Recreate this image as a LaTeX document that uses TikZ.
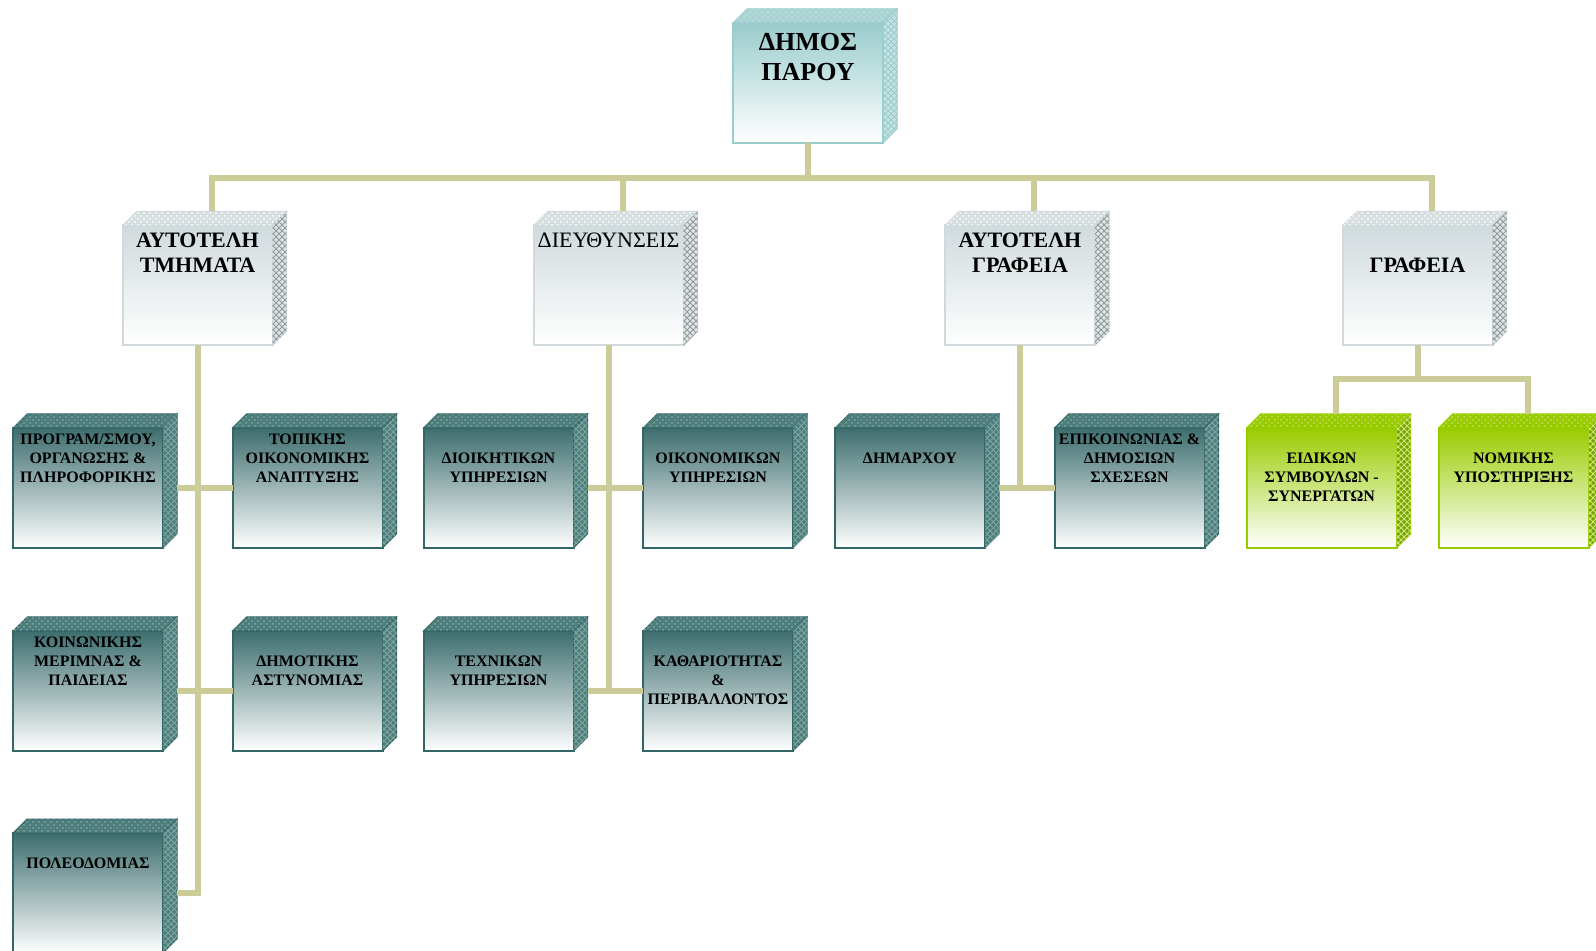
\documentclass[tikz,border=0pt]{standalone}
\usepackage{fontspec}
\setmainfont{Liberation Serif}
\usetikzlibrary{patterns}

\definecolor{conncol}{RGB}{204,204,153}
\definecolor{tealdark}{RGB}{51,102,102}
\definecolor{tealface}{RGB}{78,126,124}
\definecolor{tealdot}{RGB}{125,165,162}
\definecolor{teallight}{RGB}{153,204,204}
\definecolor{tealpale}{RGB}{176,214,213}
\definecolor{graylight}{RGB}{208,218,221}
\definecolor{grayface}{RGB}{214,222,224}
\definecolor{greenbox}{RGB}{153,204,0}

% text of a box, set from its top edge
\newcommand{\boxtext}[2]{\vbox to 60pt{\vskip#1\hbox to 75pt{\hss\begin{tabular}{@{}c@{}}#2\end{tabular}\hss}\vss}}
% top and side face of a box
\newcommand{\cubefaces}[3]{%
  \path[#2] (#1.north west) -- ++(14,14) -- ([shift={(14,14)}]#1.north east) -- (#1.north east) -- cycle;
  \path[#3] (#1.north east) -- ++(14,14) -- ([shift={(14,14)}]#1.south east) -- (#1.south east) -- cycle;
}

\begin{document}
\begin{tikzpicture}[x=0.5pt, y=0.5pt,
    conn/.style={draw=conncol, line width=3pt},
    frontbox/.style={rectangle, line width=1pt, inner sep=0pt, outer sep=0pt, bottom color=white},
    topbox/.style={frontbox, draw=teallight, top color=teallight, font=\fontsize{13}{15}\selectfont\bfseries},
    headbox/.style={frontbox, draw=graylight, top color=graylight, font=\fontsize{11}{12.5}\selectfont\bfseries},
    darkbox/.style={frontbox, draw=tealdark, top color=tealdark!95!white, font=\fontsize{8}{9.5}\selectfont\bfseries},
    greenbox/.style={frontbox, draw=greenbox, top color=greenbox, font=\fontsize{8}{9.5}\selectfont\bfseries},
    toptop/.style={fill=tealpale, draw=teallight, line width=0.5pt, postaction={pattern=crosshatch dots, pattern color=teallight}},
    topside/.style={fill=tealpale!70!white, draw=teallight, line width=0.5pt, postaction={pattern=crosshatch, pattern color=teallight}},
    headtop/.style={fill=grayface, draw=graylight, line width=0.5pt, postaction={pattern=crosshatch dots, pattern color=white}},
    headside/.style={fill=grayface!80!white, draw=graylight, line width=0.5pt, postaction={pattern=crosshatch, pattern color=graylight!70!black}},
    darktop/.style={fill=tealface, draw=tealdark, line width=0.5pt, postaction={pattern=crosshatch dots, pattern color=tealdot}},
    darkside/.style={fill=tealface, draw=tealdark, line width=0.5pt, postaction={pattern=crosshatch, pattern color=tealdot}},
    greentop/.style={fill=greenbox, draw=greenbox, line width=0.5pt, postaction={pattern=crosshatch dots, pattern color=greenbox!60!white}},
    greenside/.style={fill=greenbox!80!black, draw=greenbox, line width=0.5pt, postaction={pattern=crosshatch, pattern color=greenbox!50!white}}]
  \useasboundingbox (0,0) rectangle (1596,-951);
  \clip (0,0) rectangle (1596,-951);

  % top
  \node [topbox] (dimos) at (808,-83) {\boxtext{3.3pt}{ΔΗΜΟΣ\\ΠΑΡΟΥ}};

  % second level
  \node [headbox] (autotm) at (197.5,-285.5) {\boxtext{2.4pt}{ΑΥΤΟΤΕΛΗ\\ΤΜΗΜΑΤΑ}};
  \node [headbox] (dieuth) at (608.5,-285.5) {\boxtext{2.4pt}{\mdseries ΔΙΕΥΘΥΝΣΕΙΣ}};
  \node [headbox] (autogr) at (1020,-285.5) {\boxtext{2.4pt}{ΑΥΤΟΤΕΛΗ\\ΓΡΑΦΕΙΑ}};
  \node [headbox] (grafeia) at (1417.5,-285.5) {\boxtext{14.9pt}{ΓΡΑΦΕΙΑ}};

  % third level
  \node [darkbox] (program) at (88,-488) {\boxtext{1.5pt}{ΠΡΟΓΡΑΜ/ΣΜΟΥ,\\ΟΡΓΑΝΩΣΗΣ \&\\ΠΛΗΡΟΦΟΡΙΚΗΣ}};
  \node [darkbox] (topikis) at (307.5,-488) {\boxtext{1.5pt}{ΤΟΠΙΚΗΣ\\ΟΙΚΟΝΟΜΙΚΗΣ\\ΑΝΑΠΤΥΞΗΣ}};
  \node [darkbox] (koinon) at (88,-691) {\boxtext{1.5pt}{ΚΟΙΝΩΝΙΚΗΣ\\ΜΕΡΙΜΝΑΣ \&\\ΠΑΙΔΕΙΑΣ}};
  \node [darkbox] (dimastyn) at (307.5,-691) {\boxtext{11pt}{ΔΗΜΟΤΙΚΗΣ\\ΑΣΤΥΝΟΜΙΑΣ}};
  \node [darkbox] (poleod) at (88,-893) {\boxtext{11pt}{ΠΟΛΕΟΔΟΜΙΑΣ}};
  \node [darkbox] (dioik) at (498.5,-488) {\boxtext{11pt}{ΔΙΟΙΚΗΤΙΚΩΝ\\ΥΠΗΡΕΣΙΩΝ}};
  \node [darkbox] (oikon) at (718,-488) {\boxtext{11pt}{ΟΙΚΟΝΟΜΙΚΩΝ\\ΥΠΗΡΕΣΙΩΝ}};
  \node [darkbox] (texnikon) at (498.5,-691) {\boxtext{11pt}{ΤΕΧΝΙΚΩΝ\\ΥΠΗΡΕΣΙΩΝ}};
  \node [darkbox] (kathar) at (718,-691) {\boxtext{11pt}{ΚΑΘΑΡΙΟΤΗΤΑΣ\\\&\\ΠΕΡΙΒΑΛΛΟΝΤΟΣ}};
  \node [darkbox] (dimarx) at (910,-488) {\boxtext{11pt}{ΔΗΜΑΡΧΟΥ}};
  \node [darkbox] (epikoin) at (1129.5,-488) {\boxtext{1.5pt}{ΕΠΙΚΟΙΝΩΝΙΑΣ \&\\ΔΗΜΟΣΙΩΝ\\ΣΧΕΣΕΩΝ}};
  \node [greenbox] (eidikon) at (1321.5,-488) {\boxtext{11pt}{ΕΙΔΙΚΩΝ\\ΣΥΜΒΟΥΛΩΝ -\\ΣΥΝΕΡΓΑΤΩΝ}};
  \node [greenbox] (nomikis) at (1513.5,-488) {\boxtext{11pt}{ΝΟΜΙΚΗΣ\\ΥΠΟΣΤΗΡΙΞΗΣ}};

  \cubefaces{dimos}{toptop}{topside}
  \cubefaces{autotm}{headtop}{headside}
  \cubefaces{dieuth}{headtop}{headside}
  \cubefaces{autogr}{headtop}{headside}
  \cubefaces{grafeia}{headtop}{headside}
  \cubefaces{program}{darktop}{darkside}
  \cubefaces{topikis}{darktop}{darkside}
  \cubefaces{koinon}{darktop}{darkside}
  \cubefaces{dimastyn}{darktop}{darkside}
  \cubefaces{poleod}{darktop}{darkside}
  \cubefaces{dioik}{darktop}{darkside}
  \cubefaces{oikon}{darktop}{darkside}
  \cubefaces{texnikon}{darktop}{darkside}
  \cubefaces{kathar}{darktop}{darkside}
  \cubefaces{dimarx}{darktop}{darkside}
  \cubefaces{epikoin}{darktop}{darkside}
  \cubefaces{eidikon}{greentop}{greenside}
  \cubefaces{nomikis}{greentop}{greenside}

  % connectors
  \draw [conn] (dimos.south) -- ++(0,-35) coordinate (bus);
  \draw [conn] ([shift={(14,14)}]autotm.north) |- (bus) -| ([shift={(14,14)}]grafeia.north);
  \draw [conn] ([shift={(14,14)}]dieuth.north) |- (bus);
  \draw [conn] ([shift={(14,14)}]autogr.north) |- (bus);

  \draw [conn] (autotm.south) |- ([shift={(14,0)}]poleod.east);
  \draw [conn] ([shift={(14,0)}]program.east) -- (topikis.west);
  \draw [conn] ([shift={(14,0)}]koinon.east) -- (dimastyn.west);

  \draw [conn] (dieuth.south) |- ([shift={(14,0)}]texnikon.east);
  \draw [conn] ([shift={(14,0)}]texnikon.east) -- (kathar.west);
  \draw [conn] ([shift={(14,0)}]dioik.east) -- (oikon.west);

  \draw [conn] (autogr.south) |- ([shift={(14,0)}]dimarx.east);
  \draw [conn] ([shift={(14,0)}]dimarx.east) -- (epikoin.west);

  \draw [conn] (grafeia.south) -- ++(0,-34) coordinate (gbus);
  \draw [conn] ([shift={(14,14)}]eidikon.north) |- (gbus) -| ([shift={(14,14)}]nomikis.north);
\end{tikzpicture}
\end{document}
